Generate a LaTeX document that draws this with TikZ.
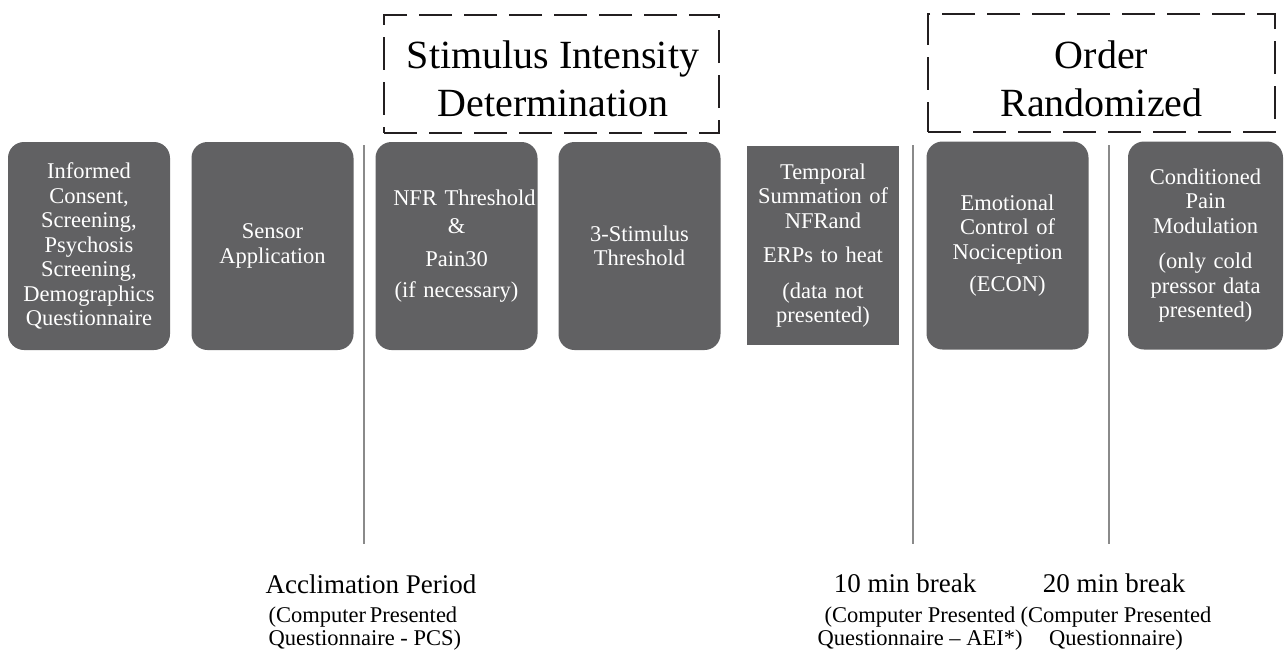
\documentclass[tikz,border=0pt]{standalone}
\usepackage{fontspec}
\setmainfont{Liberation Serif}
\usepackage{tikz}
\usetikzlibrary{positioning}
\definecolor{phasegray}{HTML}{616163}
\definecolor{sepgray}{HTML}{8A8A8A}
\definecolor{dashblack}{HTML}{231F20}

\begin{document}
\begin{tikzpicture}[x=1pt, y=-1pt,
    phase/.style={fill=phasegray,
            text=white,
            rounded corners=16pt,
            minimum width=162pt,
            minimum height=208pt,
            text width=162pt,
            inner sep=0pt,
            align=center,
            font=\fontsize{22.5}{24.5}\selectfont},
    groupframe/.style={draw=dashblack, line width=2pt,
            dash pattern=on 33pt off 12pt,
            minimum height=118pt,
            inner sep=0pt},
    grouptitle/.style={inner sep=0pt, align=center,
            font=\fontsize{40}{48}\selectfont},
    breaklabel/.style={anchor=base, font=\fontsize{27}{30}\selectfont},
    notelabel/.style={anchor=base, align=center, font=\fontsize{22.5}{23}\selectfont},
    separator/.style={draw=sepgray, line width=2pt}]
    \useasboundingbox (0,0) rectangle (1285,654);

    % dashed group titles
    \node[groupframe, minimum width=335pt] at (551.5,74) (sidframe) {};
    \node[grouptitle] at (553,79) (sid) {Stimulus Intensity\\Determination};
    \node[groupframe, minimum width=347pt] at (1101.5,73) (orderframe) {};
    \node[grouptitle] at (1101.5,79) (order) {Order\\Randomized};

    % session steps
    \node[phase] at (89,246) (consent) {Informed\\Consent,\\Screening,\\Psychosis\\Screening,\\Demographics\\Questionnaire};
    \node[phase, minimum width=161pt] at (272.5,246) (sensor) {Sensor\\Application};
    \node[phase, minimum width=161pt] at (456.5,246) (nfr) {\hspace*{16pt}NFR Threshold\\[3pt] \&\\[9pt] Pain30\\[6pt] (if necessary)};
    \node[phase, minimum width=161pt] at (639.5,246) (threestim) {3-Stimulus\\Threshold};
    \node[phase, sharp corners, minimum width=152pt, text width=152pt, minimum height=199pt] at (823,245.5) (temporal) {Temporal\\Summation of\\NFRand\\[10pt] ERPs to heat\\[11pt] (data not\\presented)};
    \node[phase, minimum width=161pt] at (1007.5,245.5) (econ) {Emotional\\Control of\\Nociception\\[8pt] (ECON)};
    \node[phase, minimum width=155pt, text width=155pt] at (1205.5,245.5) (cpm) {Conditioned\\Pain\\Modulation\\[11pt] (only cold\\pressor data\\presented)};

    % separators
    \coordinate (acctop) at (364,145);
    \coordinate (accbot) at (364,544);
    \coordinate (tentop) at (913,145);
    \coordinate (tenbot) at (913,544);
    \coordinate (twentytop) at (1109,145);
    \coordinate (twentybot) at (1109,544);
    \draw[separator] (acctop) -- (accbot);
    \draw[separator] (tentop) -- (tenbot);
    \draw[separator] (twentytop) -- (twentybot);

    % breaks
    \node[breaklabel] at (371,593) (acclim) {Acclimation Period};
    \node[notelabel, align=left, anchor=base west] at (265,645) (pcs) {(Computer\,Presented\\Questionnaire - PCS)};
    \node[breaklabel] at (905,592) (tenmin) {10 min break};
    \node[notelabel] at (920,645) (aei) {(Computer Presented\\Questionnaire -- AEI*)};
    \node[breaklabel] at (1114,592) (twentymin) {20 min break};
    \node[notelabel] at (1116,645) (cpq) {(Computer Presented\\Questionnaire)};
\end{tikzpicture}
\end{document}
